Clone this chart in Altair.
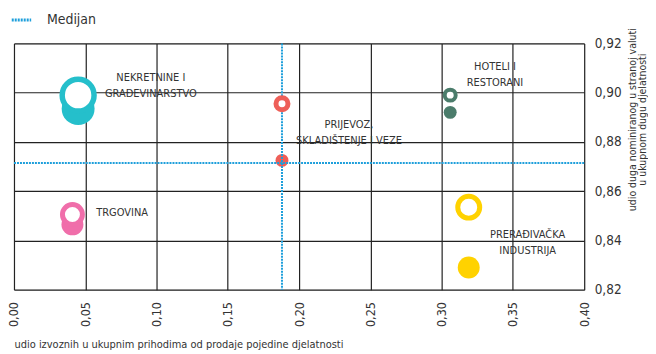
import altair as alt
import pandas as pd

FONT = "DejaVu Sans Condensed, Roboto, sans-serif"

# ---- data ----
sectors = ["NEKRETNINE I GRAĐEVINARSTVO", "TRGOVINA", "PRIJEVOZ, SKLADIŠTENJE I VEZE",
           "HOTELI I RESTORANI", "PRERAĐIVAČKA INDUSTRIJA"]
colors = ["#25BFCB", "#F06EAA", "#EE5F58", "#4B7C6B", "#FFD200"]
export_share = [0.045, 0.041, 0.188, 0.306, 0.319]
ring_y = [0.899, 0.8505, 0.8955, 0.899, 0.8535]
filled_y = [0.8935, 0.8465, 0.8725, 0.892, 0.829]

label_lines = [["NEKRETNINE I", "GRAĐEVINARSTVO"], ["TRGOVINA"], ["PRIJEVOZ,", "SKLADIŠTENJE I VEZE"],
               ["HOTELI I", "RESTORANI"], ["PRERAĐIVAČKA", "INDUSTRIJA"]]
label_x = [0.096, 0.0577, 0.235, 0.3374, 0.3603]
label_y = [0.9058, 0.8512, 0.8868, 0.9103, 0.8423]
label_align = ["center", "left", "center", "center", "center"]

median_x = 0.188
median_y = 0.8714

x_ticks = [0.0, 0.05, 0.10, 0.15, 0.20, 0.25, 0.30, 0.35, 0.40]
y_ticks = [0.82, 0.84, 0.86, 0.88, 0.90, 0.92]

# ---- styles ----
ring_size = [1024, 400, 144, 121, 484]
ring_width = [5.5, 5, 5, 4, 5]
fill_size = [1089, 484, 169, 169, 484]

pts = pd.DataFrame({"sector": sectors, "col": colors, "x": export_share,
                    "ry": ring_y, "fy": filled_y, "rs": ring_size,
                    "rw": ring_width, "fs": fill_size})
labels = pd.DataFrame({"text": ["\n".join(l) for l in label_lines], "x": label_x,
                       "y": label_y, "align": label_align})

fmt = "replace(format(datum.value, '.2f'), '.', ',')"
xscale = alt.Scale(domain=[0, 0.40], nice=False, zero=False)
yscale = alt.Scale(domain=[0.82, 0.92], nice=False, zero=False)

xaxis = alt.Axis(values=x_ticks, labelExpr=fmt, labelAngle=270, labelAlign="right",
                 labelBaseline="middle", labelPadding=12, ticks=False, domain=False,
                 grid=True, gridColor="#222222", gridWidth=1.2, gridOpacity=1,
                 labelFont=FONT, labelFontSize=12.5, labelColor="#333333",
                 title="udio izvoznih u ukupnim prihodima od prodaje pojedine djelatnosti",
                 titleFont=FONT, titleFontSize=11, titleFontWeight="normal", titleColor="#333333",
                 titleAnchor="start", titleX=0, titleY=55, titleAlign="left",
                 titleBaseline="middle")
yaxis = alt.Axis(values=y_ticks, labelExpr=fmt, orient="right", ticks=False, domain=False,
                 grid=True, gridColor="#222222", gridWidth=1.2, gridOpacity=1,
                 labelFont=FONT, labelFontSize=13.5, labelColor="#333333", labelPadding=10,
                 title=["udio duga nominiranog u stranoj valuti", "u ukupnom dugu djelatnosti"],
                 titleFont=FONT, titleFontSize=10.5, titleFontWeight="normal", titleColor="#333333",
                 titleAngle=270, titleX=43, titleY=76, titleAlign="center", titleBaseline="top",
                 titleLineHeight=10.5)

base = alt.Chart(pts)

filled = base.mark_circle(opacity=1).encode(
    x=alt.X("x:Q", scale=xscale, axis=xaxis),
    y=alt.Y("fy:Q", scale=yscale, axis=yaxis),
    color=alt.Color("col:N", scale=None, legend=None),
    size=alt.Size("fs:Q", scale=None, legend=None),
)

med_df = pd.DataFrame({"name": ["Medijan"], "mx": [median_x], "my": [median_y]})
dash = alt.StrokeDash("name:N", scale=alt.Scale(domain=["Medijan"], range=[[2, 1]]),
                      legend=alt.Legend(title=None, orient="none", legendX=-4, legendY=-35,
                                        symbolType="stroke", symbolStrokeColor="#1E9FDB",
                                        symbolStrokeWidth=3, symbolSize=380,
                                        labelFont=FONT, labelFontSize=14, labelColor="#333333",
                                        labelOffset=14))
vrule = alt.Chart(med_df).mark_rule(color="#1E9FDB", strokeWidth=2).encode(
    x=alt.X("mx:Q", scale=xscale), strokeDash=dash)
hrule = alt.Chart(med_df).mark_rule(color="#1E9FDB", strokeWidth=2).encode(
    y=alt.Y("my:Q", scale=yscale), strokeDash=dash)

rings = base.mark_circle(fill="white", opacity=1, fillOpacity=1).encode(
    x=alt.X("x:Q", scale=xscale),
    y=alt.Y("ry:Q", scale=yscale),
    stroke=alt.Stroke("col:N", scale=None, legend=None),
    strokeWidth=alt.StrokeWidth("rw:Q", scale=None, legend=None),
    size=alt.Size("rs:Q", scale=None, legend=None),
)

def text_layer(al):
    return alt.Chart(labels[labels["align"] == al]).mark_text(
        font=FONT, fontSize=11, color="#333333", align=al, baseline="middle",
        lineBreak="\n", lineHeight=16).encode(
        x=alt.X("x:Q", scale=xscale), y=alt.Y("y:Q", scale=yscale), text="text:N")

chart = alt.layer(filled, vrule, hrule, rings, text_layer("center"), text_layer("left")).properties(
    width=572, height=247,
    padding={"left": 0, "top": 0, "right": 0, "bottom": 0},
).configure_view(stroke="#111111", strokeWidth=2).configure(background="white")

chart.save("out.html", embed_options={"renderer": "svg", "actions": False})
